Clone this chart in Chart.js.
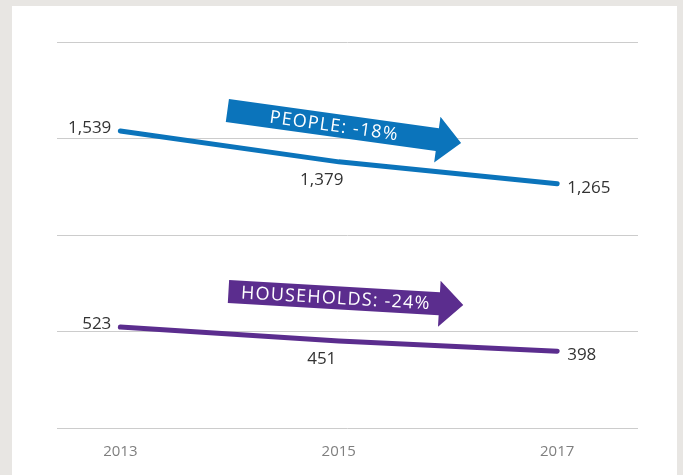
<!DOCTYPE html>
<html>
<head>
<meta charset="utf-8">
<script src="https://cdn.jsdelivr.net/npm/chart.js@4/dist/chart.umd.min.js"></script>
<style>
  html, body { margin: 0; padding: 0; background: #e8e6e3; }
  #wrap { position: relative; width: 683px; height: 475px; overflow: hidden; }
  #panel { position: absolute; left: 12px; top: 6px; width: 665px; height: 469px; background: #fff; }
  #chart { position: absolute; left: 0; top: 0; }
</style>
</head>
<body>
<div id="wrap">
  <div id="panel"></div>
  <canvas id="chart" width="683" height="475"></canvas>
</div>
<script>
// datos
const years = [2013, 2015, 2017];
const people = [1539, 1379, 1265];
const households = [523, 451, 398];
const yTicks = [0, 500, 1000, 1500, 2000];

const blue = '#0b74bb';
const purple = '#5b2d8e';

// where each value label sits relative to its point
const labelPlace = [
    { align: 'left', dx: -9, dy: -3 },
    { align: 'center', dx: -17, dy: 18 },
    { align: 'right', dx: 10, dy: 4 }
];

// arrows, placed in data units
const arrows = [
    { text: 'PEOPLE: -18%', color: blue, from: [2013.98, 1645], to: [2016.12, 1477] },
    { text: 'HOUSEHOLDS: -24%', color: purple, from: [2013.99, 707], to: [2016.14, 637] }
];

const valueLabels = {
    id: 'valueLabels',
    afterDatasetsDraw(chart) {
        const ctx = chart.ctx;
        ctx.save();
        ctx.font = '17px "Open Sans"';
        ctx.fillStyle = '#333333';
        ctx.textBaseline = 'middle';
        chart.data.datasets.forEach(function(ds, di) {
            const meta = chart.getDatasetMeta(di);
            meta.data.forEach(function(pt, i) {
                const p = labelPlace[i];
                ctx.textAlign = p.align === 'left' ? 'right' : (p.align === 'right' ? 'left' : 'center');
                ctx.fillText(ds.data[i].y.toLocaleString('en-US'), pt.x + p.dx, pt.y + p.dy);
            });
        });
        ctx.restore();
    }
};

const arrowPlugin = {
    id: 'arrowPlugin',
    afterDatasetsDraw(chart) {
        const ctx = chart.ctx;
        const xs = chart.scales.x, ys = chart.scales.y;
        arrows.forEach(function(a) {
            const sx = xs.getPixelForValue(a.from[0]), sy = ys.getPixelForValue(a.from[1]);
            const tx = xs.getPixelForValue(a.to[0]), ty = ys.getPixelForValue(a.to[1]);
            const len = Math.hypot(tx - sx, ty - sy);
            const ang = Math.atan2(ty - sy, tx - sx);
            const h = 11.5, headLen = 24, headW = 23;
            ctx.save();
            ctx.translate(sx, sy);
            ctx.rotate(ang);
            ctx.fillStyle = a.color;
            ctx.beginPath();
            ctx.moveTo(0, -h);
            ctx.lineTo(len - headLen, -h);
            ctx.lineTo(len - headLen, -headW);
            ctx.lineTo(len, 0);
            ctx.lineTo(len - headLen, headW);
            ctx.lineTo(len - headLen, h);
            ctx.lineTo(0, h);
            ctx.closePath();
            ctx.fill();
            ctx.fillStyle = '#ffffff';
            ctx.font = '18px "Open Sans"';
            ctx.letterSpacing = '1.2px';
            ctx.textAlign = 'center';
            ctx.textBaseline = 'middle';
            ctx.fillText(a.text, (len - headLen) / 2 + 2, 1);
            ctx.restore();
        });
    }
};

const ctx = document.getElementById('chart').getContext('2d');
const chart = new Chart(ctx, {
    type: 'line',
    data: {
        datasets: [{
            label: 'People',
            data: years.map((y, i) => ({ x: y, y: people[i] })),
            borderColor: blue,
            borderWidth: 5,
            borderCapStyle: 'round',
            pointRadius: 0,
            tension: 0
        }, {
            label: 'Households',
            data: years.map((y, i) => ({ x: y, y: households[i] })),
            borderColor: purple,
            borderWidth: 5,
            borderCapStyle: 'round',
            pointRadius: 0,
            tension: 0
        }]
    },
    options: {
        responsive: false,
        animation: false,
        layout: {
            padding: { left: 57, right: 45, top: 42, bottom: 7 }
        },
        plugins: {
            legend: { display: false },
            tooltip: { enabled: false }
        },
        scales: {
            x: {
                type: 'linear',
                min: 2012.42,
                max: 2017.74,
                afterBuildTicks: function(axis) {
                    axis.ticks = years.map(v => ({ value: v }));
                },
                grid: { display: false },
                border: { display: false },
                ticks: {
                    padding: 7,
                    color: '#7f7f7f',
                    font: { family: 'Open Sans', size: 15 },
                    callback: v => String(v)
                }
            },
            y: {
                min: 0,
                max: 2000,
                afterBuildTicks: function(axis) {
                    axis.ticks = yTicks.map(v => ({ value: v }));
                },
                grid: { color: '#cccccc', lineWidth: 1, drawTicks: false },
                border: { display: false },
                ticks: { display: false }
            }
        }
    },
    plugins: [valueLabels, arrowPlugin]
});
</script>
</body>
</html>
